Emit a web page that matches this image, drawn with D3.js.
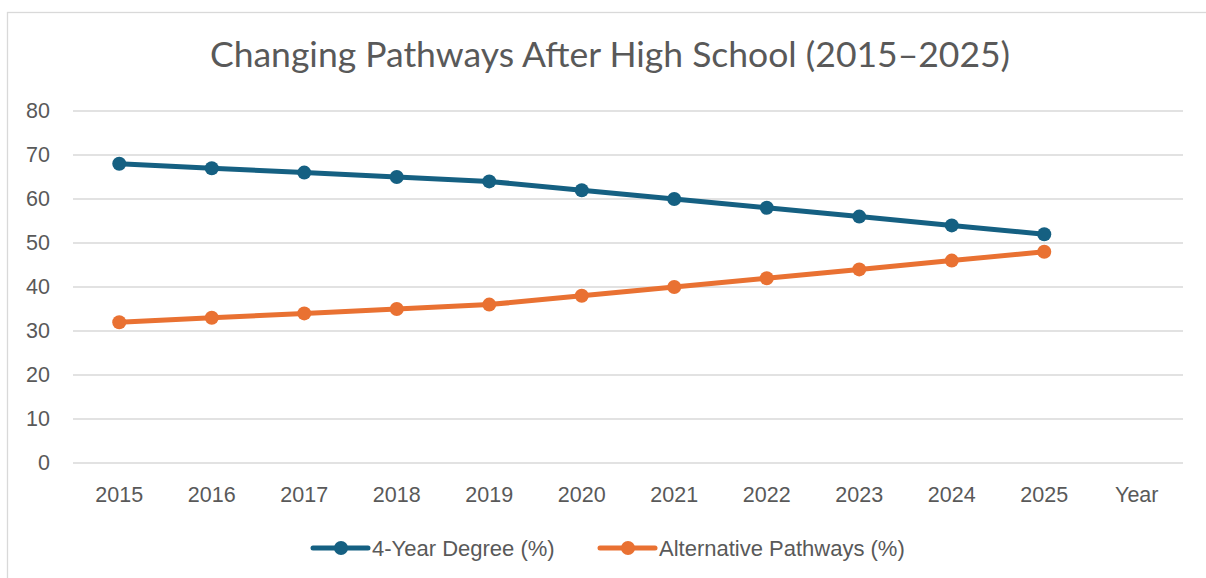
<!DOCTYPE html>
<html>
<head>
<meta charset="utf-8">
<script src="https://cdn.jsdelivr.net/npm/d3@7"></script>
<style>
body{margin:0;background:#fff;}
svg{display:block;}
</style>
</head>
<body>
<svg></svg>
<script>
const width = 1206;
const height = 578;
const categories = ['2015','2016','2017','2018','2019','2020','2021','2022','2023','2024','2025','Year'];
const years = ['2015','2016','2017','2018','2019','2020','2021','2022','2023','2024','2025'];
const degree = [68, 67, 66, 65, 64, 62, 60, 58, 56, 54, 52];
const alternative = [32, 33, 34, 35, 36, 38, 40, 42, 44, 46, 48];
const yTicks = [0, 10, 20, 30, 40, 50, 60, 70, 80];
const seriesNames = ['4-Year Degree (%)', 'Alternative Pathways (%)'];
const colors = ['#156082', '#E97132'];

const plotLeft = 73, plotRight = 1183, plotTop = 111, plotBottom = 463;
const font = "'Liberation Sans', Arial, sans-serif";
const textColor = '#595959';

var svg = d3.select('svg').attr('width', width).attr('height', height);

// chart frame
svg.append('rect')
.attr('x', 7.5).attr('y', 12.5)
.attr('width', 1220).attr('height', 600)
.style('fill', 'none').style('stroke', '#d9d9d9').style('stroke-width', 1.3);

var x = d3.scaleBand().domain(categories).range([plotLeft, plotRight]);
var y = d3.scaleLinear().domain([0, 80]).range([plotBottom, plotTop]);

// gridlines
svg.append('g').selectAll('line')
.data(yTicks).enter().append('line')
.attr('x1', plotLeft).attr('x2', plotRight)
.attr('y1', d => y(d)).attr('y2', d => y(d))
.style('stroke', '#d9d9d9').style('stroke-width', 1.3);

// y axis labels
var yAxis = svg.append('g')
.attr('transform', 'translate(' + (plotLeft - 23) + ',0)')
.call(d3.axisLeft(y).tickValues(yTicks).tickSize(0).tickPadding(0));
yAxis.select('.domain').remove();
yAxis.selectAll('text')
.style('font-family', font).style('font-size', '21.5px').style('fill', textColor);

// x axis labels
var xAxis = svg.append('g')
.attr('transform', 'translate(0,502)')
.call(d3.axisBottom(x).tickSize(0).tickPadding(0));
xAxis.select('.domain').remove();
xAxis.selectAll('text')
.attr('y', 0).attr('dy', 0)
.style('font-family', font).style('font-size', '21.5px').style('fill', textColor);

// title
svg.append('text')
.attr('x', 610).attr('y', 67)
.attr('text-anchor', 'middle')
.style('font-family', "Lato, 'Open Sans', sans-serif")
.style('font-size', '35.5px')
.style('fill', textColor)
.text('Changing Pathways After High School (2015\u20132025)');

var line = d3.line()
.x((d, i) => x(years[i]) + x.bandwidth() / 2)
.y(d => y(d));

[degree, alternative].forEach(function(series, k){
	var g = svg.append('g');
	g.append('path')
	.datum(series)
	.attr('d', line)
	.style('fill', 'none')
	.style('stroke', colors[k])
	.style('stroke-width', 5)
	.style('stroke-linejoin', 'round')
	.style('stroke-linecap', 'round');
	g.selectAll('circle')
	.data(series).enter().append('circle')
	.attr('cx', (d, i) => x(years[i]) + x.bandwidth() / 2)
	.attr('cy', d => y(d))
	.attr('r', 7)
	.style('fill', colors[k]);
});

// legend
var legendX = [313, 600];
var legend = svg.append('g');
seriesNames.forEach(function(name, k){
	var lx = legendX[k], ly = 548;
	legend.append('line')
	.attr('x1', lx).attr('x2', lx + 55)
	.attr('y1', ly).attr('y2', ly)
	.style('stroke', colors[k]).style('stroke-width', 5)
	.style('stroke-linecap', 'round');
	legend.append('circle')
	.attr('cx', lx + 28).attr('cy', ly).attr('r', 7)
	.style('fill', colors[k]);
	legend.append('text')
	.attr('x', lx + 59).attr('y', ly)
	.attr('dy', '0.35em')
	.style('font-family', font)
	.style('font-size', '22px')
	.style('fill', textColor)
	.text(name);
});
</script>
</body>
</html>
